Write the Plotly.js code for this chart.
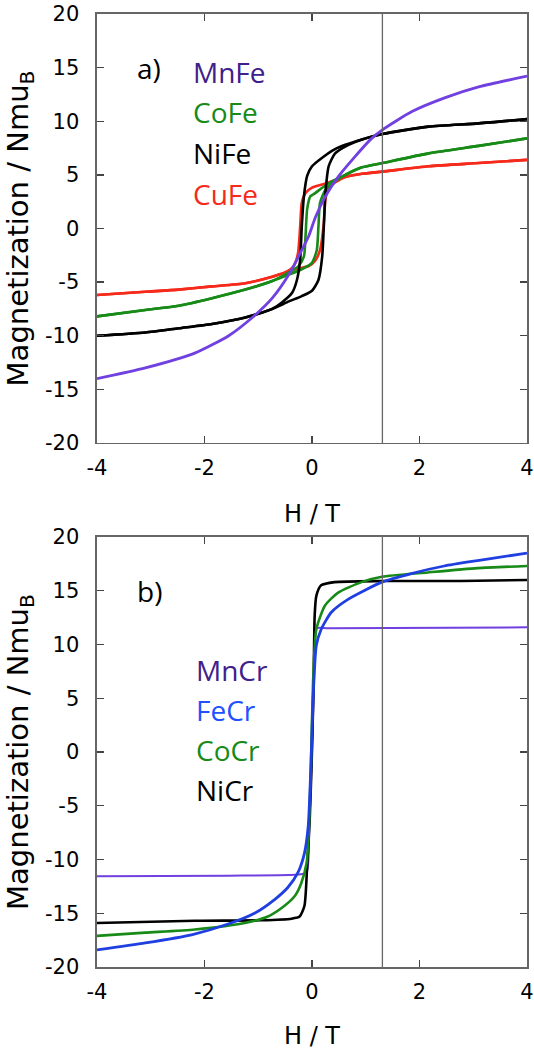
<!DOCTYPE html>
<html>
<head>
<meta charset="utf-8">
<script src="https://cdn.plot.ly/plotly-3.0.1.min.js"></script>
<style>html,body{margin:0;padding:0;background:#fff;}#plot{width:534px;height:1050px;}</style>
</head>
<body>
<div id="plot"></div>
<script>
// ---------- Panel a) ----------
const mnfe_H = [-4, -3.1, -2.17, -1.55, -1.11, -0.74, -0.43, -0.25, -0.06, 0.06, 0.25, 0.5, 0.8, 1.11, 1.31, 1.86, 2.48, 3.1, 4];
const mnfe_M = [-14.0, -13.0, -11.6, -10.0, -8.3, -6.5, -4.3, -2.6, -0.7, 1.0, 3.0, 4.9, 6.7, 8.4, 9.2, 10.9, 12.2, 13.2, 14.2];

const nife_H_down = [4, 3.1, 2.17, 1.31, 0.93, 0.62, 0.43, 0.19, 0, -0.09, -0.15, -0.19, -0.22, -0.28, -0.37, -0.56, -0.74, -1.24, -1.86, -2.48, -3.1, -4];
const nife_M_down = [10.2, 9.8, 9.5, 8.8, 8.3, 7.8, 7.4, 6.6, 5.8, 4.9, 3.0, 0.2, -2.9, -4.8, -6.0, -6.9, -7.5, -8.3, -8.9, -9.3, -9.7, -10.0];
const nife_H_up = [-4, -3.1, -2.48, -1.86, -1.24, -0.74, -0.43, -0.19, 0, 0.12, 0.19, 0.22, 0.25, 0.31, 0.43, 0.68, 0.93, 1.31, 2.17, 3.1, 4];
const nife_M_up = [-10.0, -9.7, -9.3, -8.9, -8.3, -7.5, -6.8, -6.3, -5.8, -4.8, -2.6, 0.2, 3.3, 5.8, 7.0, 7.8, 8.3, 8.8, 9.5, 9.8, 10.2];

const cofe_H_down = [4, 3.1, 2.17, 1.31, 0.93, 0.62, 0.37, 0.19, 0.06, -0.03, -0.09, -0.12, -0.15, -0.25, -0.43, -0.74, -1.24, -1.86, -2.48, -3.1, -4];
const cofe_M_down = [8.4, 7.7, 7.0, 6.1, 5.7, 5.0, 4.4, 3.8, 3.3, 3.0, 1.8, -0.7, -2.6, -3.5, -4.1, -4.9, -5.7, -6.5, -7.2, -7.6, -8.2];
const cofe_H_up = [-4, -3.1, -2.48, -1.86, -1.24, -0.74, -0.43, -0.19, 0, 0.09, 0.12, 0.15, 0.25, 0.43, 0.62, 0.93, 1.31, 2.17, 3.1, 4];
const cofe_M_up = [-8.2, -7.6, -7.2, -6.5, -5.7, -4.9, -4.3, -3.8, -3.2, -2.0, 0.2, 2.4, 3.6, 4.4, 5.0, 5.7, 6.1, 7.0, 7.7, 8.4];

const cufe_H_down = [4, 3.1, 2.17, 1.31, 0.93, 0.62, 0.37, 0.19, 0, -0.12, -0.19, -0.22, -0.26, -0.34, -0.5, -0.74, -1.24, -1.86, -2.48, -3.1, -4];
const cufe_M_down = [6.4, 6.1, 5.8, 5.3, 5.1, 4.8, 4.4, 4.1, 3.8, 3.3, 2.4, 0.2, -2.3, -3.5, -4.1, -4.5, -5.1, -5.4, -5.7, -5.9, -6.2];
const cufe_H_up = [-4, -3.1, -2.48, -1.86, -1.24, -0.74, -0.5, -0.31, -0.06, 0.06, 0.15, 0.22, 0.25, 0.31, 0.43, 0.62, 0.93, 1.31, 2.17, 3.1, 4];
const cufe_M_up = [-6.2, -5.9, -5.7, -5.4, -5.1, -4.5, -4.1, -3.8, -3.5, -3.0, -2.0, 0.5, 2.7, 3.8, 4.3, 4.8, 5.1, 5.3, 5.8, 6.1, 6.4];

// ---------- Panel b) ----------
const mncr_H = [-4, -1.56, -0.26, -0.1, -0.05, 0, 0.04, 0.08, 0.3, 4];
const mncr_M = [-11.55, -11.5, -11.4, -11.2, -7.0, 0.0, 7.0, 11.5, 11.5, 11.6];

const fecr_H = [-4, -3.1, -2.24, -1.56, -1.07, -0.69, -0.45, -0.26, -0.14, -0.07, -0.02, 0.02, 0.08, 0.17, 0.36, 0.67, 1.3, 1.85, 2.46, 3.08, 4];
const fecr_M = [-18.4, -17.75, -17.0, -16.0, -15.0, -13.7, -12.6, -11.2, -9.4, -6.9, -1.3, 4.9, 9.9, 11.4, 13.0, 14.2, 15.8, 16.6, 17.3, 17.8, 18.5];

const cocr_H = [-4, -3.1, -2.18, -1.25, -0.82, -0.51, -0.32, -0.2, -0.1, -0.06, -0.02, 0.02, 0.08, 0.24, 0.48, 0.92, 1.3, 2.15, 3.08, 4];
const cocr_M = [-17.1, -16.8, -16.5, -15.9, -15.3, -14.3, -13.4, -12.2, -10.3, -7.5, -1.3, 6.5, 11.4, 13.6, 14.8, 15.8, 16.3, 16.7, 17.1, 17.3];

const nicr_H = [-4, -2.18, -0.94, -0.38, -0.23, -0.14, -0.09, -0.04, 0, 0.03, 0.05, 0.08, 0.17, 0.42, 1.3, 2.77, 4];
const nicr_M = [-15.9, -15.7, -15.65, -15.5, -15.3, -14.3, -10.6, -6.0, 0.2, 6.5, 12.7, 14.5, 15.5, 15.8, 15.9, 15.9, 16.0];

// ---------- Labels ----------
const xTickVals = [-4, -2, 0, 2, 4];
const xTickText = ['-4', '-2', '0', '2', '4'];
const yTickVals = [-20, -15, -10, -5, 0, 5, 10, 15, 20];
const yTickText = ['-20', '-15', '-10', '-5', '0', '5', '10', '15', '20'];
const xTitle = 'H / T';
const yTitle = 'Magnetization / Nmu<sub>B</sub>';
const fieldMarker = 1.31;
const namesA = ['MnFe', 'CoFe', 'NiFe', 'CuFe'];
const namesB = ['MnCr', 'FeCr', 'CoCr', 'NiCr'];
const panelLabels = ['a)', 'b)'];

const C = {
  mnLine: '#7040e0', mnText: '#40208a', green: '#178a17', black: '#000000',
  red: '#f52a1a', blueLine: '#1f3fe0', blueText: '#2050ff'
};

function line(x, y, color, w, xa, ya) {
  return {x: x, y: y, type: 'scatter', mode: 'lines', xaxis: xa, yaxis: ya,
          line: {color: color, width: w, shape: 'spline', smoothing: 0.6}, hoverinfo: 'skip'};
}

const data = [
  line(cufe_H_down, cufe_M_down, C.red, 2.6, 'x', 'y'),
  line(cufe_H_up, cufe_M_up, C.red, 2.6, 'x', 'y'),
  line(cofe_H_down, cofe_M_down, C.green, 2.6, 'x', 'y'),
  line(cofe_H_up, cofe_M_up, C.green, 2.6, 'x', 'y'),
  line(nife_H_down, nife_M_down, C.black, 2.6, 'x', 'y'),
  line(nife_H_up, nife_M_up, C.black, 2.6, 'x', 'y'),
  line(mnfe_H, mnfe_M, C.mnLine, 2.8, 'x', 'y'),

  line(mncr_H, mncr_M, C.mnLine, 2.0, 'x2', 'y2'),
  line(nicr_H, nicr_M, C.black, 2.6, 'x2', 'y2'),
  line(cocr_H, cocr_M, C.green, 2.6, 'x2', 'y2'),
  line(fecr_H, fecr_M, C.blueLine, 2.8, 'x2', 'y2')
];

const tickFont = {family: 'DejaVu Sans, sans-serif', size: 21, color: '#000'};
const xTitleFont = {family: 'DejaVu Sans, sans-serif', size: 24, color: '#000'};
const yTitleFont = {family: 'DejaVu Sans, sans-serif', size: 29, color: '#000'};

function xax(anchor) {
  return {domain: [0.1816, 0.9869], range: [-4, 4], anchor: anchor,
    tickmode: 'array', tickvals: xTickVals, ticktext: xTickText,
    ticks: 'inside', ticklen: 7, tickwidth: 1.3, tickcolor: '#444',
    showline: true, linecolor: '#666', linewidth: 1.5, mirror: 'ticks',
    showgrid: false, zeroline: false, tickfont: tickFont, ticklabelstandoff: 5,
    title: {text: xTitle, font: xTitleFont, standoff: 26}, automargin: false, fixedrange: true};
}
function yax(anchor, dom) {
  return {domain: dom, range: [-20, 20], anchor: anchor,
    tickmode: 'array', tickvals: yTickVals, ticktext: yTickText,
    ticks: 'inside', ticklen: 7, tickwidth: 1.3, tickcolor: '#444',
    showline: true, linecolor: '#666', linewidth: 1.5, mirror: 'ticks',
    showgrid: false, zeroline: false, tickfont: tickFont, ticklabelstandoff: 12,
    title: {text: yTitle, font: yTitleFont, standoff: 8}, automargin: false, fixedrange: true};
}

const labFont = (c) => ({family: 'Open Sans, sans-serif', size: 28, color: c});
function ann(text, xref, yref, x, y, color) {
  return {text: text, xref: xref, yref: yref, x: x, y: y, xanchor: 'left', yanchor: 'middle',
          showarrow: false, font: labFont(color)};
}

const layout = {
  width: 534, height: 1050,
  margin: {l: 0, r: 0, t: 0, b: 0},
  paper_bgcolor: '#fff', plot_bgcolor: '#fff', showlegend: false,
  xaxis: xax('y'), yaxis: yax('x', [0.5781, 0.9867]),
  xaxis2: xax('y2'), yaxis2: yax('x2', [0.0790, 0.4886]),
  shapes: [
    {type: 'line', xref: 'x', yref: 'y domain', x0: fieldMarker, x1: fieldMarker, y0: 0, y1: 1, line: {color: '#666', width: 1.3}},
    {type: 'line', xref: 'x2', yref: 'y2 domain', x0: fieldMarker, x1: fieldMarker, y0: 0, y1: 1, line: {color: '#666', width: 1.3}}
  ],
  annotations: [
    ann(panelLabels[0], 'x', 'y', -3.3, 15.0, '#000'),
    ann(namesA[0], 'x', 'y', -2.25, 14.6, C.mnText),
    ann(namesA[1], 'x', 'y', -2.25, 10.9, C.green),
    ann(namesA[2], 'x', 'y', -2.25, 7.0, C.black),
    ann(namesA[3], 'x', 'y', -2.25, 3.2, C.red),
    ann(panelLabels[1], 'x2', 'y2', -3.3, 15.0, '#000'),
    ann(namesB[0], 'x2', 'y2', -2.2, 7.6, C.mnText),
    ann(namesB[1], 'x2', 'y2', -2.2, 3.9, C.blueText),
    ann(namesB[2], 'x2', 'y2', -2.2, 0.2, C.green),
    ann(namesB[3], 'x2', 'y2', -2.2, -3.5, C.black)
  ]
};

Plotly.newPlot('plot', data, layout, {staticPlot: true, displayModeBar: false});
</script>
</body>
</html>
